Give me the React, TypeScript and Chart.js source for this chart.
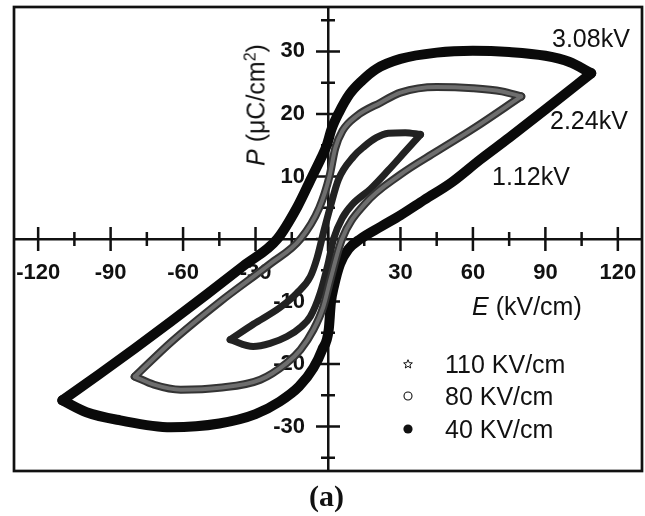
import React, { useEffect, useRef } from 'react';
import { Chart, registerables } from 'chart.js';

Chart.register(...registerables);

// ---- data ----
const seriesLabels = ['110 KV/cm', '80 KV/cm', '40 KV/cm'];
const loopLabels = ['1.12kV', '2.24kV', '3.08kV'];

// small loop (stars) - 1.12kV
const smallUpE = [38.3, 32, 25, 20, 15, 10.6, 4.3, 1, -1.9, -4.5, -7.3, -13, -20, -30.8, -40.5];
const smallUpP = [16.7, 17, 16.9, 16.2, 14.8, 13.2, 9.5, 5.2, 1, -3, -6, -8.7, -11, -13.6, -16.1];
const smallLoE = [-40.5, -31, -24, -17, -11, -7.3, -3.2, 0, 2.3, 6, 10, 17.6, 25, 32, 38.3];
const smallLoP = [-16.1, -17.2, -16.7, -15.6, -14, -12.4, -8.6, -4, 0, 3.4, 5.5, 8, 11, 14, 16.7];

// middle loop (open circles) - 2.24kV
const midUpE = [80, 72, 60, 45, 30, 21.7, 12, 6, 3, 0.6, -3.6, -11.4, -24, -44.6, -65, -80];
const midUpP = [22.8, 23.6, 24.1, 24.3, 23.4, 21.8, 19.7, 17.3, 14.5, 10, 5, 0, -4, -10, -16.5, -22];
const midLoE = [-80, -72, -61, -45, -28, -17, -11.4, -6, -1.9, 1, 5.8, 15, 30, 45, 60, 80];
const midLoP = [-22, -23.3, -24.1, -23.8, -22.5, -19.8, -17.7, -14.5, -10.8, -6.5, 0, 5.5, 10.3, 14, 17.6, 22.8];

// big loop (filled circles) - 3.08kV
const bigUpE = [109, 100, 90, 75, 60, 45, 30, 20, 14, 9, 4.5, 1.5, -0.5, -3, -6.8, -12.6, -21, -35, -50, -65, -80, -95, -110];
const bigUpP = [26.5, 28.3, 29.3, 29.9, 30.1, 29.8, 28.8, 27.2, 25.3, 23.2, 20.2, 17.6, 15, 12.8, 9.8, 5.2, 0, -4.3, -8.8, -13.2, -17.5, -21.7, -25.8];
const bigLoE = [-110, -100, -86, -65, -45, -30, -20, -12, -6, -2.4, 0.3, 1.2, 2.5, 5, 8.5, 13.4, 22, 30, 40, 51, 63, 75, 90, 109];
const bigLoP = [-25.8, -27.7, -29, -30.1, -29.5, -28, -26, -23.6, -20.6, -17.7, -14.5, -10.2, -7.5, -4, -1.6, 0, 2, 3.8, 6.3, 9, 12.7, 16.2, 20.7, 26.5];

// axes
const xRange = [-130, 130];
const yRange = [-37.1, 37.1];
const xMajorTicks = [-120, -90, -60, -30, 0, 30, 60, 90, 120];
const xMinorTicks = [-105, -75, -45, -15, 15, 45, 75, 105];
const yMajorTicks = [-30, -20, -10, 0, 10, 20, 30];
const yMinorTicks = [-35, -25, -15, -5, 5, 15, 25, 35];

const SANS = '"Liberation Sans", Arial, Helvetica, sans-serif';
const INK = '#111';

const toPts = (E: number[], P: number[]) => E.map((e, i) => ({ x: e, y: P[i] }));

// drawn top-first: index 0 ends up on top
const strokes = [
  { label: seriesLabels[1], up: toPts(midUpE, midUpP), lo: toPts(midLoE, midLoP), color: '#6e6e6e', width: 4 },
  { label: seriesLabels[1], up: toPts(midUpE, midUpP), lo: toPts(midLoE, midLoP), color: '#343434', width: 8 },
  { label: seriesLabels[0], up: toPts(smallUpE, smallUpP), lo: toPts(smallLoE, smallLoP), color: '#222222', width: 7 },
  { label: seriesLabels[2], up: toPts(bigUpE, bigUpP), lo: toPts(bigLoE, bigLoP), color: '#0a0a0a', width: 10 },
];

const axisDecor = {
  id: 'axisDecor',
  beforeDatasetsDraw(chart: any) {
    const { ctx, chartArea: a, scales } = chart;
    const xs = scales.x;
    const ys = scales.y;
    ctx.save();
    ctx.strokeStyle = INK;
    ctx.lineWidth = 2.7;
    ctx.strokeRect(a.left, a.top, a.right - a.left, a.bottom - a.top);
    const x0 = xs.getPixelForValue(0);
    const y0 = ys.getPixelForValue(0);
    ctx.lineWidth = 2.5;
    ctx.beginPath();
    const seg = (x1: number, y1: number, x2: number, y2: number) => {
      ctx.moveTo(x1, y1);
      ctx.lineTo(x2, y2);
    };
    xMajorTicks.forEach((v) => { const p = xs.getPixelForValue(v); seg(p, y0 - 12, p, y0 + 12); });
    xMinorTicks.forEach((v) => { const p = xs.getPixelForValue(v); seg(p, y0 - 7, p, y0 + 7); });
    yMajorTicks.forEach((v) => { const p = ys.getPixelForValue(v); seg(x0 - 12, p, x0 + 12, p); });
    yMinorTicks.forEach((v) => { const p = ys.getPixelForValue(v); seg(x0 - 7, p, x0 + 7, p); });
    ctx.stroke();
    ctx.restore();
  },
};

function Marker({ kind }: { kind: string }) {
  if (kind === 'star') {
    const pts: string[] = [];
    for (let i = 0; i < 10; i++) {
      const r = i % 2 === 0 ? 4.6 : 2;
      const ang = -Math.PI / 2 + (i * Math.PI) / 5;
      pts.push(`${6 + r * Math.cos(ang)},${6.3 + r * Math.sin(ang)}`);
    }
    return (
      <svg width={12} height={12} style={{ display: 'block' }}>
        <polygon points={pts.join(' ')} fill="#fff" stroke="#111" strokeWidth={1} />
      </svg>
    );
  }
  if (kind === 'open') {
    return (
      <svg width={12} height={12} style={{ display: 'block' }}>
        <circle cx={6} cy={6} r={4} fill="#fff" stroke="#111" strokeWidth={1.1} />
      </svg>
    );
  }
  return (
    <svg width={12} height={12} style={{ display: 'block' }}>
      <circle cx={6} cy={6} r={4.6} fill="#111" />
    </svg>
  );
}

const legendMarkers = ['star', 'open', 'filled'];
const legendCenters = [364, 396, 429];

const noPad = (s: any) => {
  s.paddingLeft = 0;
  s.paddingRight = 0;
  s.paddingTop = 0;
  s.paddingBottom = 0;
};

export default function App() {
  const ref = useRef<HTMLCanvasElement | null>(null);

  useEffect(() => {
    if (!ref.current) return;
    const datasets: any[] = [];
    strokes.forEach((l) => {
      [l.up, l.lo].forEach((d) => {
        datasets.push({
          label: l.label,
          data: d,
          showLine: true,
          borderColor: l.color,
          backgroundColor: l.color,
          borderWidth: l.width,
          pointRadius: 0,
          pointHoverRadius: 0,
          cubicInterpolationMode: 'monotone',
          borderJoinStyle: 'round',
          borderCapStyle: 'round',
          fill: false,
        });
      });
    });
    const tickFont = { family: SANS, size: 22, weight: 'bold' as const };
    const chart = new Chart(ref.current, {
      type: 'scatter',
      data: { datasets },
      options: {
        responsive: false,
        animation: false,
        events: [],
        layout: { padding: { left: 14, top: 7, right: 3, bottom: 45 } },
        plugins: { legend: { display: false }, tooltip: { enabled: false } },
        scales: {
          x: {
            type: 'linear',
            position: 'center',
            min: xRange[0],
            max: xRange[1],
            afterBuildTicks: (s: any) => { s.ticks = xMajorTicks.map((v) => ({ value: v })); },
            afterFit: noPad,
            ticks: {
              callback: (v: any) => (Number(v) === 0 ? '' : String(v)),
              font: tickFont,
              color: INK,
              padding: 21,
              maxRotation: 0,
              autoSkip: false,
            },
            grid: { display: false, drawTicks: false },
            border: { display: true, color: INK, width: 2.5 },
          },
          y: {
            type: 'linear',
            position: 'center',
            min: yRange[0],
            max: yRange[1],
            afterBuildTicks: (s: any) => { s.ticks = yMajorTicks.map((v) => ({ value: v })); },
            afterFit: noPad,
            ticks: {
              callback: (v: any) => (Number(v) === 0 ? '' : String(v)),
              font: tickFont,
              color: INK,
              padding: 23,
              autoSkip: false,
            },
            grid: { display: false, drawTicks: false },
            border: { display: true, color: INK, width: 2.5 },
          },
        },
      },
      plugins: [axisDecor],
    } as any);
    return () => chart.destroy();
  }, []);

  const base: React.CSSProperties = {
    position: 'absolute',
    fontFamily: SANS,
    fontSize: 25,
    lineHeight: 1,
    whiteSpace: 'nowrap',
    color: INK,
  };

  return (
    <div style={{ position: 'fixed', left: 0, top: 0, width: 645, height: 516, background: '#fff', overflow: 'hidden' }}>
      <canvas ref={ref} width={645} height={516} style={{ display: 'block', width: 645, height: 516 }} />
      <div style={{ ...base, left: 552, top: 26 }}>{loopLabels[2]}</div>
      <div style={{ ...base, left: 550, top: 108 }}>{loopLabels[1]}</div>
      <div style={{ ...base, left: 492, top: 164 }}>{loopLabels[0]}</div>
      <div style={{ ...base, left: 472, top: 294 }}>
        <i>E</i> (kV/cm)
      </div>
      <div
        style={{
          ...base,
          left: 256,
          top: 105,
          transform: 'translate(-50%, -50%) rotate(-90deg)',
        }}
      >
        <i>P</i> (μC/cm<sup style={{ fontSize: 16, verticalAlign: 9, lineHeight: 0 }}>2</sup>)
      </div>
      {seriesLabels.map((lab, i) => (
        <React.Fragment key={lab}>
          <div style={{ position: 'absolute', left: 402, top: legendCenters[i] - 6 }}>
            <Marker kind={legendMarkers[i]} />
          </div>
          <div style={{ ...base, left: 445, top: legendCenters[i] - 12.3 }}>{lab}</div>
        </React.Fragment>
      ))}
      <div
        style={{
          ...base,
          fontFamily: '"Liberation Serif", "Times New Roman", serif',
          fontWeight: 'bold',
          fontSize: 30,
          left: 326.5,
          top: 481,
          transform: 'translateX(-50%)',
        }}
      >
        (a)
      </div>
    </div>
  );
}
